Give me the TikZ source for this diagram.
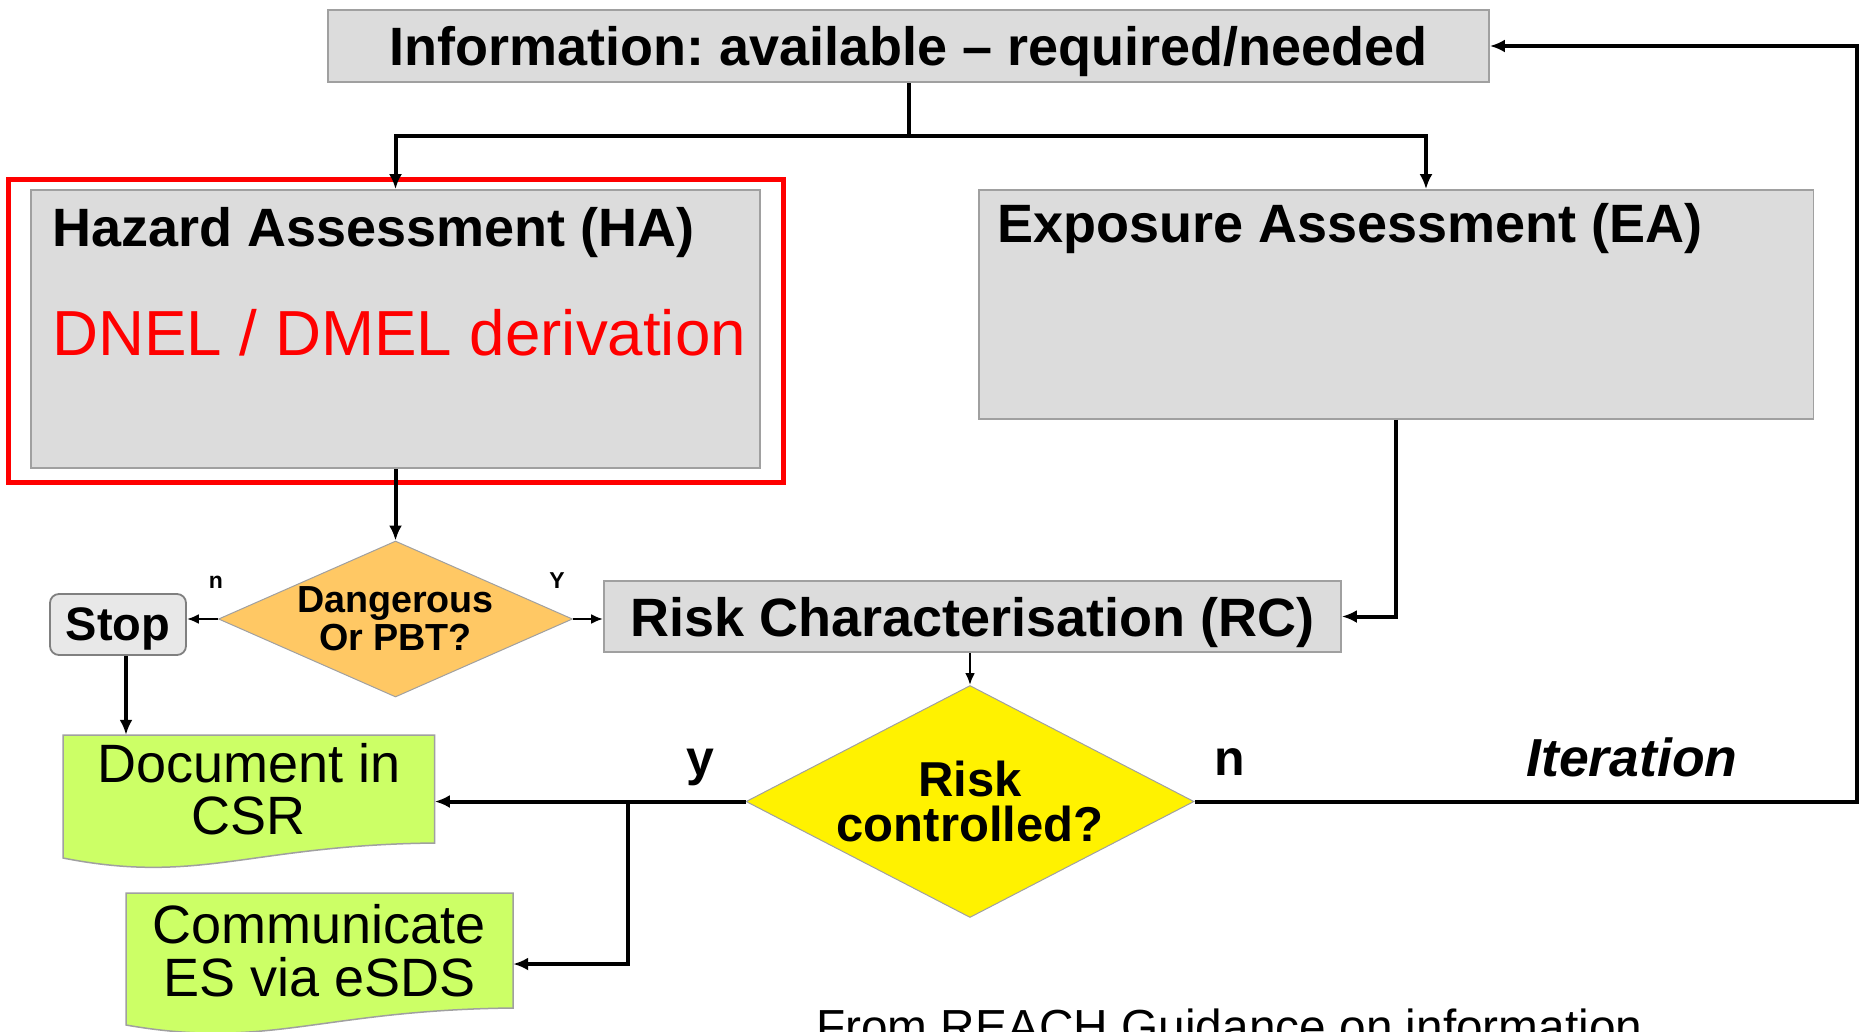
\documentclass[tikz,border=0pt]{standalone}
\usepackage{fontspec}
\setmainfont{Liberation Sans}
\frenchspacing
\usetikzlibrary{shapes.geometric,arrows.meta,calc}
\definecolor{boxgrey}{HTML}{DCDCDC}
\definecolor{edgegrey}{HTML}{A0A0A0}
\definecolor{stopgrey}{HTML}{E8E8E8}
\definecolor{dangorange}{HTML}{FFC864}
\definecolor{docgreen}{HTML}{CCFF66}
\tikzset{%
  stagebox/.style  = {shape=rectangle, draw=edgegrey, fill=boxgrey,%
                      line width=1.8pt, inner sep=0pt},%
  titletext/.style = {font=\fontsize{54}{54}\selectfont\bfseries},%
  decision/.style  = {shape=diamond, draw=edgegrey, line width=1pt,%
                      inner sep=-30pt, align=center},%
  stopbox/.style   = {stagebox, rounded corners=9pt, fill=stopgrey,%
                      draw=gray},%
  docbox/.style    = {fill=docgreen, draw=edgegrey, line width=1.5pt},%
  doctext/.style   = {inner sep=0pt, align=center,%
                      font=\fontsize{54}{52.4}\selectfont},%
  flow/.style      = {line width=4pt, -{Latex[length=15pt,width=13pt]}},%
  thinflow/.style  = {line width=2.5pt, -{Latex[length=12pt,width=10pt]}},%
  branch/.style    = {anchor=base, font=\fontsize{50}{50}\selectfont\bfseries}%
}
\begin{document}
\begin{tikzpicture}[x=1pt, y=-1pt]
	\useasboundingbox (0,0) rectangle (1862,1031);
	\clip (0,0) rectangle (1862,1031);
	% top row
	\node[stagebox, titletext, text depth=0pt,
		minimum width=1161pt, minimum height=72.5pt] (info) at (908.5,46)
		{Information: available – required/needed};
	\node[stagebox, minimum width=729pt, minimum height=278pt] (ha) at (395.5,329) {};
	\node[titletext, anchor=base west, inner sep=0pt] (hatitle) at (52,246)
		{Hazard Assessment (HA)};
	\node[anchor=base west, inner sep=0pt, text=red,
		font=\fontsize{63.7}{64}\selectfont] (dnel) at (52,355)
		{DNEL / DMEL derivation};
	\draw[red, line width=5pt] ($(ha.north west)+(-21.5,-9.5)$)
		rectangle ($(ha.south east)+(22.5,14)$);
	\node[stagebox, minimum width=834.8pt, minimum height=229pt] (ea) at (1396,304.5) {};
	\node[titletext, anchor=base west, inner sep=0pt] (eatitle) at (997.5,242)
		{Exposure Assessment (EA)};
	% middle row
	\node[decision, fill=dangorange, minimum width=354pt, minimum height=156pt,
		font=\fontsize{37.7}{38}\selectfont\bfseries] (dang) at (395.5,619)
		{Dangerous\\Or PBT?};
	\node[stopbox, text depth=0pt, minimum width=136pt, minimum height=61pt,
		font=\fontsize{47}{47}\selectfont\bfseries] (stop) at (118,624.5) {Stop};
	\node[stagebox, titletext, text depth=0pt,
		minimum width=737pt, minimum height=71pt] (rc) at (972.5,616.5)
		{Risk Characterisation (RC)};
	\node[anchor=base, font=\fontsize{23}{23}\selectfont\bfseries] (dangno) at (216,588) {n};
	\node[anchor=base, font=\fontsize{23}{23}\selectfont\bfseries] (dangyes) at (557,588) {Y};
	% bottom row
	\node[decision, fill=yellow, minimum width=448pt, minimum height=232pt,
		font=\fontsize{49}{45}\selectfont\bfseries] (risk) at (970,801.5)
		{Risk\\controlled?};
	\filldraw[docbox] (63,735) -- (434.6,735) -- (434.6,843)
		.. controls (250,845) and (200,885) .. (63,858) -- cycle;
	\node[doctext, minimum width=371.6pt, minimum height=108pt] (doc) at (248.8,789)
		{Document in\\CSR};
	\filldraw[docbox] (126,893) -- (513,893) -- (513,1008)
		.. controls (320,1010) and (269,1050) .. (126,1025) -- cycle;
	\node[doctext, minimum width=387pt, minimum height=115pt] (comm) at (319.5,950.5)
		{Communicate\\ES via eSDS};
	\node[branch] (riskyes) at (700.6,775) {y};
	\node[branch] (riskno) at (1230,775) {n};
	\node[branch, font=\fontsize{53.5}{54}\selectfont\bfseries\itshape] (iter) at (1632,776)
		{Iteration};
	\node[anchor=base west, inner sep=0pt, font=\fontsize{47.8}{48}\selectfont] (source)
		at (816,1043) {From REACH Guidance on information};
	% connectors
	\draw[flow] (info.south) -- ++(0,53) coordinate (split) -| (ha.north);
	\draw[flow] (split) -| ($(ea.north)+(30,0)$);
	\draw[flow] (ha.south) -- (dang.north);
	\draw[thinflow] (dang.west) -- (dang.west -| stop.east);
	\draw[thinflow] (dang.east) -- (dang.east -| rc.west);
	\draw[flow] (ea.south) |- (rc.east);
	\draw[thinflow] (rc.south -| risk.north) -- (risk.north);
	\draw[flow] (risk.east) -| ($(info.east)+(367,0)$) -- (info.east);
	\draw[flow] (risk.west) -- (risk.west -| doc.east);
	\draw[flow] ($(risk.west)+(-118,0)$) |- ($(comm.east)+(0,13.5)$);
	\draw[flow] ($(stop.south)+(8,0)$) coordinate (stopout) -- (stopout |- doc.north);
\end{tikzpicture}
\end{document}
